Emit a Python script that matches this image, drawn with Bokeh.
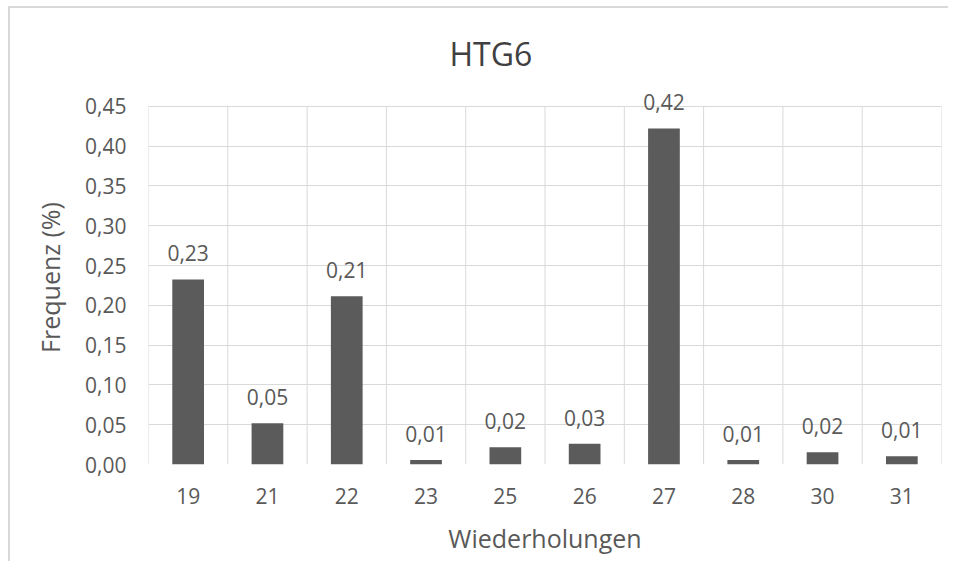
from bokeh.plotting import figure
from bokeh.models import ColumnDataSource, FixedTicker, Range1d, Title, LabelSet
from bokeh.core.properties import value
from bokeh.embed import file_html
from bokeh.resources import INLINE

# ---- data ----
categories = ["19", "21", "22", "23", "25", "26", "27", "28", "30", "31"]
frequencies = [0.2325, 0.0517, 0.2115, 0.0055, 0.0216, 0.0262, 0.4224, 0.0055, 0.0155, 0.0103]
y_ticks = [0.00, 0.05, 0.10, 0.15, 0.20, 0.25, 0.30, 0.35, 0.40, 0.45]
y_tick_labels = ["0,00", "0,05", "0,10", "0,15", "0,20", "0,25", "0,30", "0,35", "0,40", "0,45"]
title_text = "HTG6"
x_title = "Wiederholungen"
y_title = "Frequenz (%)"

FONT = "Open Sans"
TXT = "#595959"
GRID = "#d9d9d9"
BAR = "#5b5b5b"

positions = list(range(len(categories)))
labels = [f"{v:.2f}".replace(".", ",") for v in frequencies]
src = ColumnDataSource(data=dict(x=positions, y=frequencies, lab=labels))

y_top = y_ticks[-1]
# a little head-room above the last tick so the tallest data label is not clipped
p = figure(width=940, height=555, output_backend="svg", toolbar_location=None,
           x_range=Range1d(-0.5, len(categories) - 0.5), y_range=Range1d(0, 0.47),
           min_border_left=138, min_border_right=9, min_border_top=82, min_border_bottom=99)

p.add_layout(Title(text=title_text, align="left", offset=301, text_font=FONT,
                   text_font_size="32px", text_font_style="normal", text_color="#404040",
                   vertical_align="bottom", standoff=32), "above")

# vertical gridlines between categories, limited to the value axis extent
bounds = [i - 0.5 for i in positions] + [len(categories) - 0.5]
p.segment(x0=bounds, y0=[0] * len(bounds), x1=bounds, y1=[y_top] * len(bounds),
          line_color=GRID, line_width=1)

p.vbar(x="x", top="y", width=0.4, source=src, fill_color=BAR, line_color=None)
p.add_layout(LabelSet(x="x", y="y", text="lab", source=src, text_align="center",
                      text_baseline="alphabetic", y_offset=18, text_font=value(FONT),
                      text_font_size="21px", text_color=TXT))

# x axis
p.xaxis.ticker = FixedTicker(ticks=positions)
p.xaxis.major_label_overrides = {i: c for i, c in zip(positions, categories)}
p.xgrid.grid_line_color = None
p.xaxis.axis_label = x_title

# y axis
p.yaxis.ticker = FixedTicker(ticks=y_ticks)
p.yaxis.major_label_overrides = {t: l for t, l in zip(y_ticks, y_tick_labels)}
p.yaxis.axis_label = y_title
p.ygrid.grid_line_color = GRID

for ax in (p.xaxis[0], p.yaxis[0]):
    ax.axis_line_color = None
    ax.major_tick_line_color = None
    ax.minor_tick_line_color = None
    ax.major_label_text_font = FONT
    ax.major_label_text_font_size = "21px"
    ax.major_label_text_color = TXT
    ax.axis_label_text_font = FONT
    ax.axis_label_text_font_size = "25px"
    ax.axis_label_text_font_style = "normal"
    ax.axis_label_text_color = TXT

p.xaxis.major_label_standoff = 17
p.yaxis.major_label_standoff = 16
p.xaxis.axis_label_standoff = 14
p.yaxis.axis_label_standoff = 15

p.outline_line_color = None
p.background_fill_color = "white"
p.border_fill_color = "white"
p.styles = {"margin-left": "8px", "margin-top": "6px",
            "border-left": "2px solid #d9d9d9", "border-top": "2px solid #d9d9d9"}

open("out.html", "w").write(file_html(p, INLINE))
